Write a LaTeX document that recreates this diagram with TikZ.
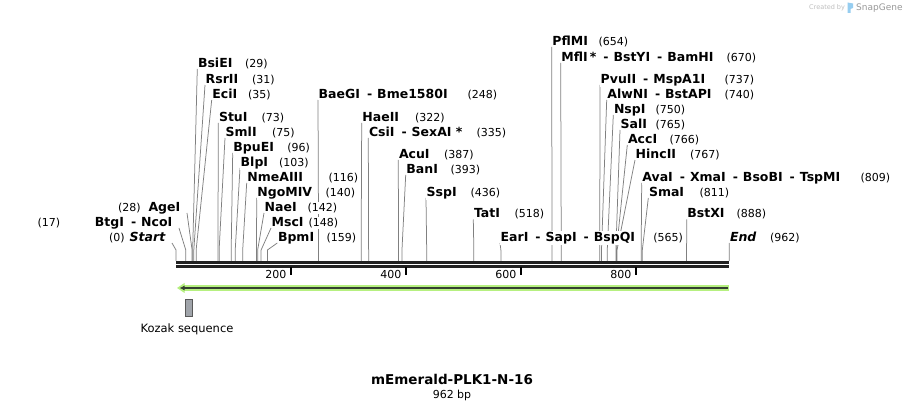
\documentclass[tikz,border=0pt]{standalone}
\usepackage{fontspec}
\setmainfont{DejaVu Sans}
\usetikzlibrary{arrows.meta}

\definecolor{featgreen}{RGB}{182,240,128}
\definecolor{featdark}{RGB}{52,64,48}
\definecolor{kozakgray}{RGB}{160,164,170}
\definecolor{logoblue}{RGB}{150,205,240}

\pgfdeclarelayer{leaders}
\pgfsetlayers{leaders,main}

\newcommand{\enzsep}{\hspace{7pt}-\hspace{5pt}}

\begin{document}
\begin{tikzpicture}[x=1pt,y=-1pt,
    enz/.style={font=\fontsize{12.5}{14}\selectfont\bfseries,anchor=base west,fill=white,inner xsep=0.5pt,inner ysep=1pt},
    bpnum/.style={font=\fontsize{11}{13}\selectfont,anchor=base west,fill=white,inner xsep=0.5pt,inner ysep=1pt},
    leader/.style={draw=gray,line width=0.75pt},
    seqline/.style={draw=black!87,line width=2.5pt},
    tickmark/.style={draw=black,line width=1.8pt}
  ]
  \begin{pgfonlayer}{leaders}
    \fill[white] (0,0) rectangle (906,411);
  \end{pgfonlayer}
  \useasboundingbox (0,0) rectangle (906,411);

  % sequence
  \coordinate (seqL) at (176,262.3);
  \coordinate (seqR) at (729,262.3);
  \draw[seqline] (seqL) -- (seqR);
  \draw[seqline] ([yshift=-4pt]seqL) -- ([yshift=-4pt]seqR);
  \foreach \t in {200,400,600,800} {
    \coordinate (tick\t) at ({176+0.575*\t},267.5);
    \draw[tickmark] (tick\t) -- ++(0,7.5);
    \node[bpnum,anchor=base east] (lbl\t) at ([xshift=-4pt,yshift=-11.5pt]tick\t) {\t};
  }

  % enzyme sites
  \foreach \nm/\txt/\x/\y/\nx/\bp in {
      BsiEI/BsiEI/197.3/67.5/244.5/29,
      RsrII/RsrII/205/83.5/251.5/31,
      EciI/EciI/211.7/98.5/247.5/35,
      StuI/StuI/218.3/121.5/261/73,
      SmlI/SmlI/225/136.5/271.5/75,
      BpuEI/BpuEI/232.7/151.5/286.7/96,
      BlpI/BlpI/240/166.5/278.3/103,
      NmeAIII/NmeAIII/246.7/181.5/328/116,
      NgoMIV/NgoMIV/256.7/196.5/325/140,
      NaeI/NaeI/264/211.5/307/142,
      MscI/MscI/271/226.5/308/148,
      BpmI/BpmI/277.3/241.5/326/159,
      BaeGI/{BaeGI\enzsep Bme1580I}/318/98.5/467/248,
      HaeII/HaeII/361.7/121.5/414.3/322,
      CsiI/{CsiI\enzsep SexAI *}/368.3/136.5/476/335,
      AcuI/AcuI/398.3/158.5/443.3/387,
      BanI/BanI/405.7/173.5/450/393,
      SspI/SspI/426/196.5/470/436,
      TatI/TatI/473.3/218/514/518,
      EarI/{EarI\enzsep SapI\enzsep BspQI}/500/241.5/652.7/565,
      PflMI/PflMI/551.7/45.5/598/654,
      MflI/{MflI\,*\enzsep BstYI\enzsep BamHI}/560.7/61.5/726/670,
      PvuII/{PvuII\enzsep MspA1I}/600/83.5/724/737,
      AlwNI/{AlwNI\enzsep BstAPI}/606.7/98.5/724/740,
      NspI/NspI/613.3/113.5/655/750,
      SalI/SalI/620/128.5/655/765,
      AccI/AccI/627.3/143.5/669/766,
      HincII/HincII/635/158.5/689.3/767,
      AvaI/{AvaI\enzsep XmaI\enzsep BsoBI\enzsep TspMI}/641.7/181.5/860/809,
      SmaI/SmaI/648.3/196.5/698.8/811,
      BstXI/BstXI/686.7/218/736/888,
      End/{\itshape End}/729.3/241.5/769.3/962} {
    \node[enz] (\nm) at (\x,\y) {\txt};
    \node[bpnum] (\nm-bp) at (\nx,\y) {(\bp)};
    \coordinate (\nm-cut) at ({176+0.575*\bp},261);
    \begin{pgfonlayer}{leaders}
      \draw[leader] ([yshift=-1.5pt]\nm.base west) -- ([yshift=11pt]\nm-cut) -- (\nm-cut);
    \end{pgfonlayer}
  }

  % sites labelled on the left
  \foreach \nm/\txt/\x/\y/\nx/\bp in {
      AgeI/AgeI/181/211.5/117.3/28,
      NcoI/{BtgI\enzsep NcoI}/173/226.5/37/17,
      Start/{\itshape Start}/166/241.5/108.3/0} {
    \node[enz,anchor=base east] (\nm) at (\x,\y) {\txt};
    \node[bpnum] (\nm-bp) at (\nx,\y) {(\bp)};
    \coordinate (\nm-cut) at ({176+0.575*\bp},261);
    \begin{pgfonlayer}{leaders}
      \draw[leader] ([xshift=6pt,yshift=-1.5pt]\nm.base east) -- ([yshift=11pt]\nm-cut) -- (\nm-cut);
    \end{pgfonlayer}
  }

  % feature arrow
  \coordinate (featR) at (729,288);
  \coordinate (featL) at (177,288);
  \draw[line width=6pt,featgreen] (featR) -- ([xshift=6pt]featL);
  \fill[featgreen] (featL) -- ++(7.5,-5) -- ++(0,10) -- cycle;
  \draw[featdark,line width=1.6pt,-{Latex[length=5pt,width=5pt]}] ([xshift=-1pt]featR) -- ([xshift=2.5pt]featL);

  % Kozak
  \node[draw=black!65,fill=kozakgray,line width=0.6pt,minimum width=7pt,minimum height=17.5pt,inner sep=0pt] (kozak) at (188.8,307.8) {};
  \node[font=\fontsize{11.5}{13}\selectfont,anchor=base,inner sep=0pt] (kozakLbl) at (187,333) {Kozak sequence};

  \node[font=\fontsize{13.5}{15}\selectfont\bfseries,anchor=base,inner sep=0pt] (title) at (452,384.5) {mEmerald-PLK1-N-16};
  \node[font=\fontsize{11}{13}\selectfont,anchor=base,inner sep=0pt] (length) at (452,398.5) {962 bp};

  % credit
  \node[font=\fontsize{6.5}{8}\selectfont,text=black!25,anchor=base west,inner sep=0pt] (created) at (809,10) {Created by};
  \fill[logoblue] (847.5,2.5) -- (853,3.5) -- (853,8) -- (850.5,9) -- (850.5,13) -- (847.5,13) -- cycle;
  \node[font=\fontsize{9}{10}\selectfont,text=black!40,anchor=base west,inner sep=0pt] (snapgene) at (856,10.5) {SnapGene};
\end{tikzpicture}
\end{document}
